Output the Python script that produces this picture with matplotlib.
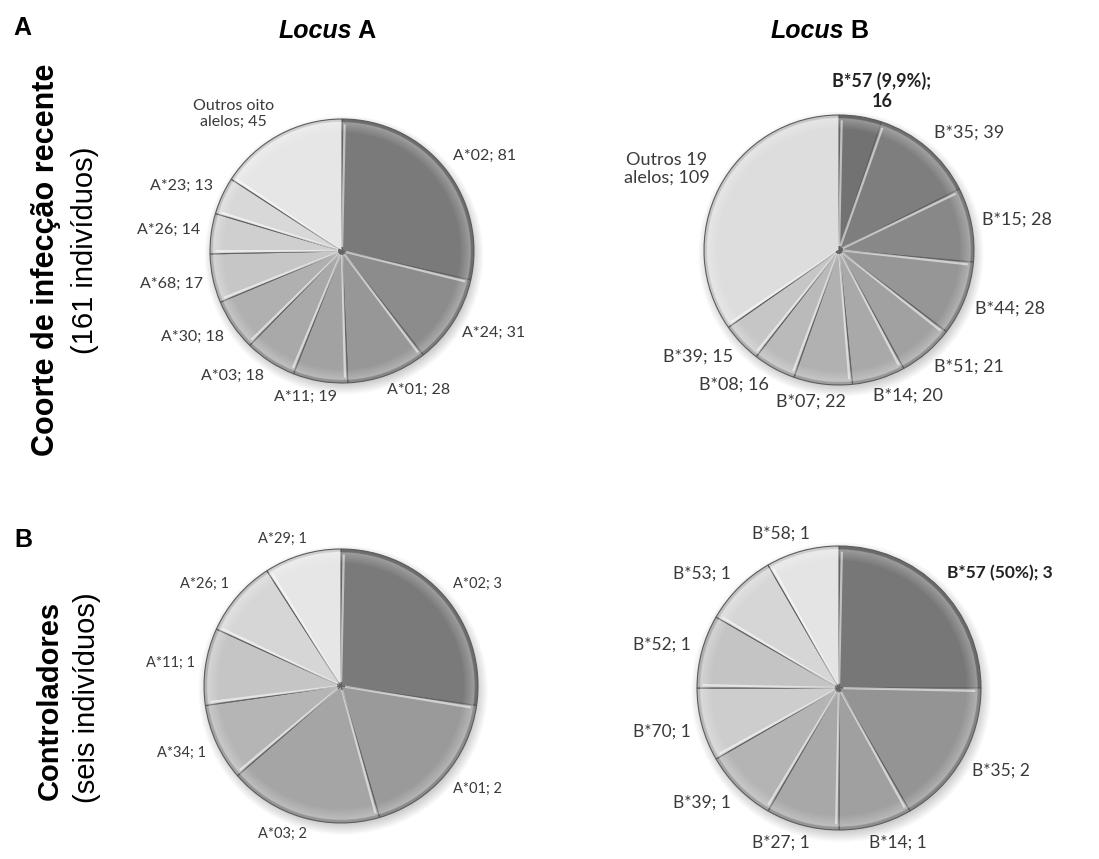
import matplotlib
matplotlib.use("Agg")
import matplotlib.pyplot as plt
import numpy as np
from matplotlib.patches import Wedge, Circle
from matplotlib.transforms import ScaledTranslation

# --- data ---
# A: coorte de infecção recente (161 indivíduos)
coorte_a_alleles = ["A*02", "A*24", "A*01", "A*11", "A*03", "A*30", "A*68",
                    "A*26", "A*23", "Outros oito\nalelos"]
coorte_a_counts = [81, 31, 28, 19, 18, 18, 17, 14, 13, 45]

coorte_b_alleles = ["B*57 (9,9%)", "B*35", "B*15", "B*44", "B*51", "B*14",
                    "B*07", "B*08", "B*39", "Outros 19\nalelos"]
coorte_b_counts = [16, 39, 28, 28, 21, 20, 22, 16, 15, 109]

# B: controladores (seis indivíduos)
contr_a_alleles = ["A*02", "A*01", "A*03", "A*34", "A*11", "A*26", "A*29"]
contr_a_counts = [3, 2, 2, 1, 1, 1, 1]

contr_b_alleles = ["B*57 (50%)", "B*35", "B*14", "B*27", "B*39", "B*70",
                   "B*52", "B*53", "B*58"]
contr_b_counts = [3, 2, 1, 1, 1, 1, 1, 1, 1]

# --- style ---
W, H, DPI = 1099, 859, 100
LABEL_FONT = "Lato"
HEAD_FONT = "Liberation Sans"
TXT = "#3a3a3a"
PAD = 1.3  # axes half-size in pie radii

shades_ca = ["#7a7a7a", "#8c8c8c", "#979797", "#a2a2a2", "#a9a9a9", "#b0b0b0",
             "#c6c6c6", "#cfcfcf", "#d8d8d8", "#e6e6e6"]
shades_cb = ["#727272", "#7e7e7e", "#888888", "#969696", "#a1a1a1", "#a9a9a9",
             "#b1b1b1", "#bababa", "#c6c6c6", "#dddddd"]
shades_xa = ["#7a7a7a", "#9a9a9a", "#a5a5a5", "#b5b5b5", "#c5c5c5", "#d6d6d6", "#e6e6e6"]
shades_xb = ["#777777", "#949494", "#a0a0a0", "#a8a8a8", "#b4b4b4", "#cdcdcd",
             "#c4c4c4", "#d6d6d6", "#e4e4e4"]

fig = plt.figure(figsize=(W / DPI, H / DPI), dpi=DPI)
fig.patch.set_facecolor("white")


def draw_pie(cx, cy, r, alleles, counts, shades, fsize, bold=(), wrap=()):
    s = PAD * r
    ax = fig.add_axes([(cx - s) / W, 1 - (cy + s) / H, 2 * s / W, 2 * s / H])
    labels = []
    for a, n in zip(alleles, counts):
        sep = ";\n" if a in wrap else "; "
        labels.append(f"{a}{sep}{n}")

    # soft drop shadow
    for k in range(8):
        ax.add_patch(Circle((0.015, -0.03), 0.985 + 0.01 * k, color="k",
                            alpha=0.025, lw=0, zorder=0))

    wedges, texts = ax.pie(counts, labels=labels, colors=shades, startangle=90,
                           counterclock=False, labeldistance=1.08,
                           wedgeprops=dict(edgecolor="#626262", linewidth=0.8),
                           textprops=dict(family=LABEL_FONT, fontsize=fsize,
                                          color=TXT))
    # bevel-like shading: soft light band inside the rim, dark outer lip
    for w in wedges:
        t1, t2 = w.theta1, w.theta2
        for k in range(5):
            ax.add_patch(Wedge((0, 0), 0.90 + 0.015 * (k + 1), t1, t2, width=0.015,
                               fc="white", alpha=0.05 + 0.05 * k, lw=0, zorder=3))
        ax.add_patch(Wedge((0, 0), 1.0, t1, t2, width=0.02,
                           fc="black", alpha=0.10, lw=0, zorder=3))
        # highlight along the leading radial edge
        a = np.deg2rad(t2 - min(1.2, 0.25 * (t2 - t1)))
        ax.plot([0.03 * np.cos(a), 0.96 * np.cos(a)],
                [0.03 * np.sin(a), 0.96 * np.sin(a)],
                color="white", lw=1.6, alpha=0.55, zorder=3,
                solid_capstyle="butt")
    ax.set_xlim(-PAD, PAD)
    ax.set_ylim(-PAD, PAD)
    ax.set_axis_off()

    # push each label outward so its box clears the rim (Excel-like placement)
    renderer = fig.canvas.get_renderer()
    for t, a in zip(texts, alleles):
        x, y = t.get_position()
        fxs = float(np.clip(2.5 * x / 1.08, -1, 1))
        fys = 0.8 * float(np.clip(2.5 * y / 1.08, -1, 1))
        t.set_ha("center")
        t.set_va("center")
        if a in bold:
            t.set_fontweight("bold")
            t.set_color("#222222")
        bb = t.get_window_extent(renderer=renderer)
        t.set_transform(ax.transData +
                        ScaledTranslation(fxs * bb.width / 2 / DPI,
                                          fys * bb.height / 2 / DPI,
                                          fig.dpi_scale_trans))
    return ax


draw_pie(342, 251, 132, coorte_a_alleles, coorte_a_counts, shades_ca, 11.5)
draw_pie(839, 250, 135, coorte_b_alleles, coorte_b_counts, shades_cb, 13,
         bold={"B*57 (9,9%)"}, wrap={"B*57 (9,9%)"})
draw_pie(341, 686, 137, contr_a_alleles, contr_a_counts, shades_xa, 10.5)
draw_pie(839, 688, 142, contr_b_alleles, contr_b_counts, shades_xb, 12.5,
         bold={"B*57 (50%)"})


def fx(px):
    return px / W


def fy(py):
    return 1 - py / H


# panel letters
fig.text(fx(22), fy(28), "A", family=HEAD_FONT, fontsize=18, fontweight="bold",
         ha="center", va="center")
fig.text(fx(23), fy(540), "B", family=HEAD_FONT, fontsize=18, fontweight="bold",
         ha="center", va="center")

# column headings: italic "Locus" + upright letter
for x_right, letter in ((352, "A"), (844, "B")):
    t1 = fig.text(fx(x_right), fy(31), "Locus", family=HEAD_FONT, fontsize=18,
                  fontweight="bold", style="italic", ha="right", va="center")
    fig.add_artist(plt.Annotation(" " + letter, xy=(1, 0.5), xycoords=t1,
                                  ha="left", va="center", family=HEAD_FONT,
                                  fontsize=18, fontweight="bold"))

# row titles
fig.text(fx(46), fy(260), "Coorte de infecção recente", family=HEAD_FONT,
         fontsize=22, fontweight="bold", rotation=90, ha="center", va="center")
fig.text(fx(85), fy(250), "(161 indivíduos)", family=HEAD_FONT, fontsize=21,
         rotation=90, ha="center", va="center")
fig.text(fx(50), fy(700), "Controladores", family=HEAD_FONT, fontsize=21,
         fontweight="bold", rotation=90, ha="center", va="center")
fig.text(fx(87), fy(698), "(seis indivíduos)", family=HEAD_FONT, fontsize=21,
         rotation=90, ha="center", va="center")

fig.savefig("out.png", dpi=DPI, facecolor="white")
